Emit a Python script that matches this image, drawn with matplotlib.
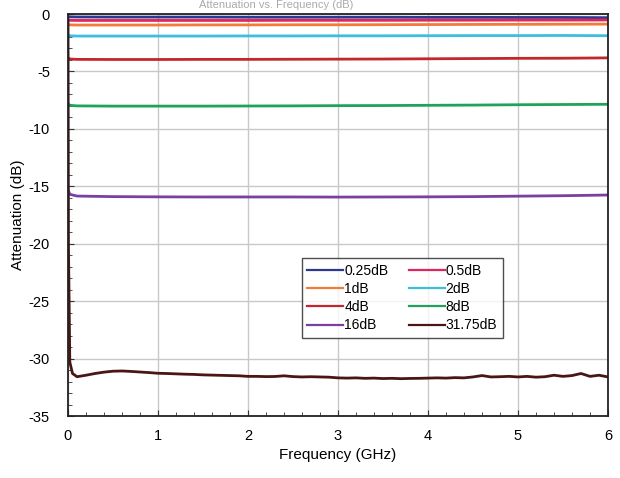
import matplotlib
matplotlib.use("Agg")
import matplotlib.pyplot as plt
from matplotlib.ticker import MultipleLocator

plt.rcParams['font.family'] = ['Liberation Sans', 'DejaVu Sans']
plt.rcParams['axes.unicode_minus'] = False

freq = [0.0, 0.02, 0.1, 0.5, 1.0, 1.5, 2.0, 2.5, 3.0, 3.5, 4.0, 4.5, 5.0, 5.5, 6.0]
att_025 = [-0.2, -0.25, -0.26, -0.27, -0.27, -0.27, -0.28, -0.28, -0.28, -0.28, -0.29, -0.29, -0.3, -0.3, -0.32]
att_05 = [-0.5, -0.55, -0.56, -0.56, -0.56, -0.56, -0.56, -0.55, -0.55, -0.55, -0.54, -0.54, -0.53, -0.53, -0.52]
att_1 = [-0.9, -0.95, -0.96, -0.96, -0.96, -0.95, -0.95, -0.94, -0.94, -0.93, -0.92, -0.91, -0.9, -0.89, -0.88]
att_2 = [-1.8, -1.9, -1.92, -1.92, -1.92, -1.92, -1.91, -1.91, -1.9, -1.9, -1.89, -1.88, -1.88, -1.87, -1.89]
att_4 = [-3.8, -3.92, -3.95, -3.96, -3.96, -3.95, -3.95, -3.94, -3.93, -3.92, -3.9, -3.88, -3.86, -3.85, -3.82]
att_8 = [-7.8, -7.95, -8.0, -8.02, -8.02, -8.02, -8.01, -8.0, -7.98, -7.97, -7.95, -7.93, -7.9, -7.88, -7.86]
att_16 = [-15.3, -15.7, -15.85, -15.9, -15.92, -15.93, -15.93, -15.93, -15.94, -15.93, -15.92, -15.9, -15.86, -15.82, -15.76]

freq_max = [0.0, 0.005, 0.02, 0.05,
            0.1, 0.2, 0.3, 0.4, 0.5, 0.6, 0.7, 0.8, 0.9, 1.0,
            1.1, 1.2, 1.3, 1.4, 1.5, 1.6, 1.7, 1.8, 1.9, 2.0,
            2.1, 2.2, 2.3, 2.4, 2.5, 2.6, 2.7, 2.8, 2.9, 3.0,
            3.1, 3.2, 3.3, 3.4, 3.5, 3.6, 3.7, 3.8, 3.9, 4.0,
            4.1, 4.2, 4.3, 4.4, 4.5, 4.6, 4.7, 4.8, 4.9, 5.0,
            5.1, 5.2, 5.3, 5.4, 5.5, 5.6, 5.7, 5.8, 5.9, 6.0]
att_3175 = [-0.5, -20.0, -30.3, -31.3,
            -31.58, -31.45, -31.3, -31.18, -31.1, -31.08, -31.12, -31.17, -31.22, -31.28,
            -31.3, -31.33, -31.36, -31.38, -31.42, -31.44, -31.46, -31.48, -31.5, -31.55,
            -31.55, -31.57, -31.56, -31.5, -31.57, -31.6, -31.58, -31.6, -31.62, -31.68,
            -31.7, -31.68, -31.72, -31.7, -31.74, -31.72, -31.75, -31.73, -31.72, -31.7,
            -31.68, -31.7, -31.66, -31.68, -31.6, -31.48, -31.6, -31.58, -31.55, -31.6,
            -31.55, -31.62, -31.58, -31.45, -31.55, -31.48, -31.3, -31.55, -31.45, -31.6]

labels = ['0.25dB', '0.5dB', '1dB', '2dB', '4dB', '8dB', '16dB', '31.75dB']
colors = ['#2B3990', '#E0245E', '#F47A3A', '#3BBFE0', '#C1272D', '#1FA35B', '#7B3FA0', '#4A1515']

fig = plt.figure(figsize=(6.2, 4.78), dpi=100)
ax = fig.add_axes([68/620, 1-416/478, 540/620, 402/478])

series = [att_025, att_05, att_1, att_2, att_4, att_8, att_16]
handles = []
for s, lab, c in zip(series, labels[:7], colors[:7]):
    h, = ax.plot(freq, s, color=c, lw=2.0, label=lab)
    handles.append(h)
h, = ax.plot(freq_max, att_3175, color=colors[7], lw=2.0, label=labels[7])
handles.append(h)

ax.set_xlim(0, 6)
ax.set_ylim(-35, 0)
ax.xaxis.set_major_locator(MultipleLocator(1))
ax.yaxis.set_major_locator(MultipleLocator(5))
ax.xaxis.set_minor_locator(MultipleLocator(0.2))
ax.yaxis.set_minor_locator(MultipleLocator(1))
ax.grid(True, which='major', color='#C8C8C8', lw=1.0)
ax.set_axisbelow(True)
ax.tick_params(which='both', direction='in', labelsize=10.5, color='#333333')
ax.tick_params(which='major', length=4)
ax.tick_params(which='minor', length=3)
ax.tick_params(axis='x', pad=9)
ax.tick_params(axis='y', pad=13)
for sp in ax.spines.values():
    sp.set_color('#222222')
    sp.set_linewidth(1.3)

ax.set_xlabel('Frequency (GHz)', fontsize=11)
ax.set_ylabel('Attenuation (dB)', fontsize=11)
ax.xaxis.set_label_coords(0.5, -(455 - 416) / 402)
ax.yaxis.set_label_coords(-(68 - 18) / 540, 0.5)
ax.xaxis.label.set_va('center')
ax.yaxis.label.set_va('center')

# row-wise ordering in a 2-column legend
order = [0, 2, 4, 6, 1, 3, 5, 7]
leg = ax.legend([handles[i] for i in order], [labels[i] for i in order],
                ncol=2, loc='lower left', bbox_to_anchor=(0.433, 0.194, 0.372, 0.194),
                mode='expand', borderaxespad=0.0, fontsize=10, frameon=True, fancybox=False,
                edgecolor='#222222', handlelength=2.6, handletextpad=0.05,
                labelspacing=0.3, borderpad=0.4, columnspacing=1.8)
leg.get_frame().set_linewidth(1.0)
for l in leg.get_lines():
    l.set_linewidth(1.6)

fig.text(0.445, 0.999, 'Attenuation vs. Frequency (dB)', ha='center', va='top',
         fontsize=8, color='#AAAAAA')

fig.savefig('out.png', dpi=100)
